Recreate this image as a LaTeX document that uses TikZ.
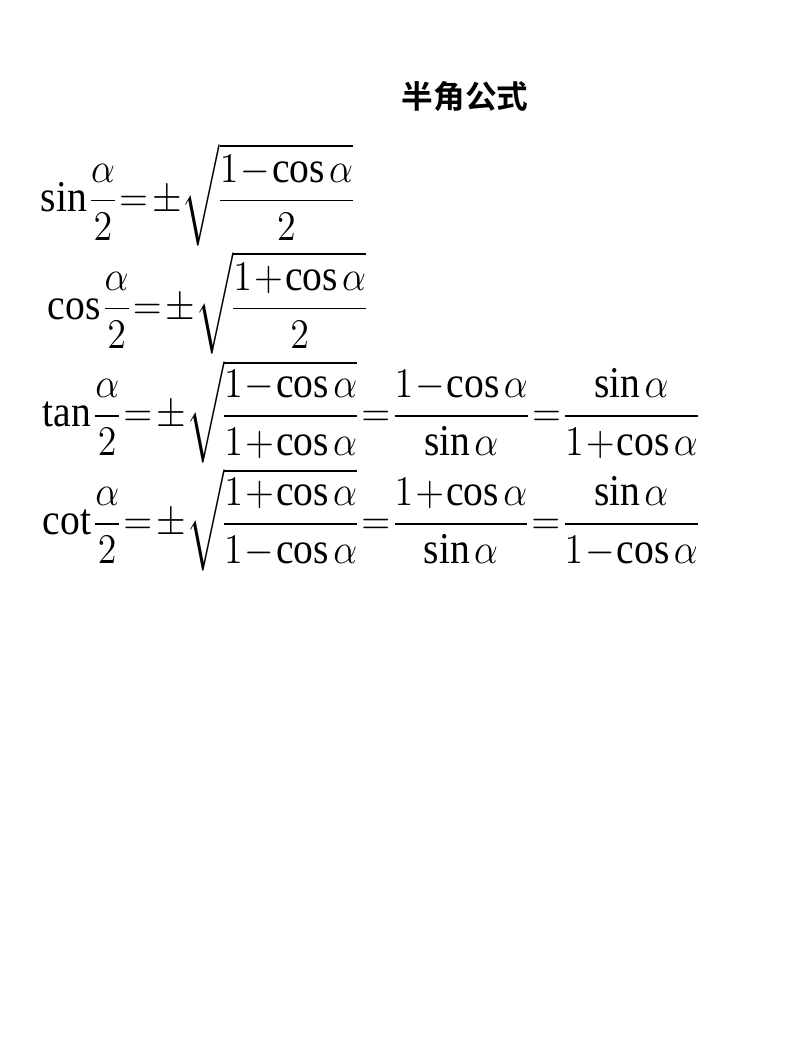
\documentclass[tikz,border=0pt]{standalone}
\usepackage{amsmath}
\usepackage{graphicx}
\usepackage{fontspec}
\setmainfont{Liberation Serif}
\newfontfamily\cjk{Noto Sans CJK SC}[BoldFont={Noto Sans CJK SC Bold}]
\newcommand{\tightmath}[1]{\scalebox{0.9}[1]{$\thickmuskip=2mu\medmuskip=1mu\thinmuskip=2mu
  \nulldelimiterspace=0pt #1$}}
\begin{document}
\begin{tikzpicture}
  [x=0.01cm, y=-0.01cm,
   formula/.style={anchor=west, inner sep=0, font=\fontsize{12.5}{15}\selectfont},
   heading/.style={inner sep=0, font=\cjk\bfseries\fontsize{9}{11}\selectfont}]

  \useasboundingbox (0,0) rectangle (790,1057);

  % title
  \node[heading] (title) at (465, 97) {半角公式};

  % half-angle formulas
  \node[formula] (sinhalf) at (40, 195)
    {\tightmath{\sin\dfrac{\alpha}{2}=\pm\sqrt{\dfrac{1-\cos\alpha}{2}}}};
  \node[formula] (coshalf) at (47, 303)
    {\tightmath{\cos\dfrac{\alpha}{2}=\pm\sqrt{\dfrac{1+\cos\alpha}{2}}}};
  \node[formula] (tanhalf) at (42, 412)
    {\tightmath{\tan\dfrac{\alpha}{2}=\pm\sqrt{\dfrac{1-\cos\alpha}{1+\cos\alpha}}
      =\dfrac{1-\cos\alpha}{\sin\alpha}=\dfrac{\sin\alpha}{1+\cos\alpha}}};
  \node[formula] (cothalf) at (42, 520)
    {\tightmath{\cot\dfrac{\alpha}{2}=\pm\sqrt{\dfrac{1+\cos\alpha}{1-\cos\alpha}}
      =\dfrac{1+\cos\alpha}{\sin\alpha}=\dfrac{\sin\alpha}{1-\cos\alpha}}};

\end{tikzpicture}
\end{document}
